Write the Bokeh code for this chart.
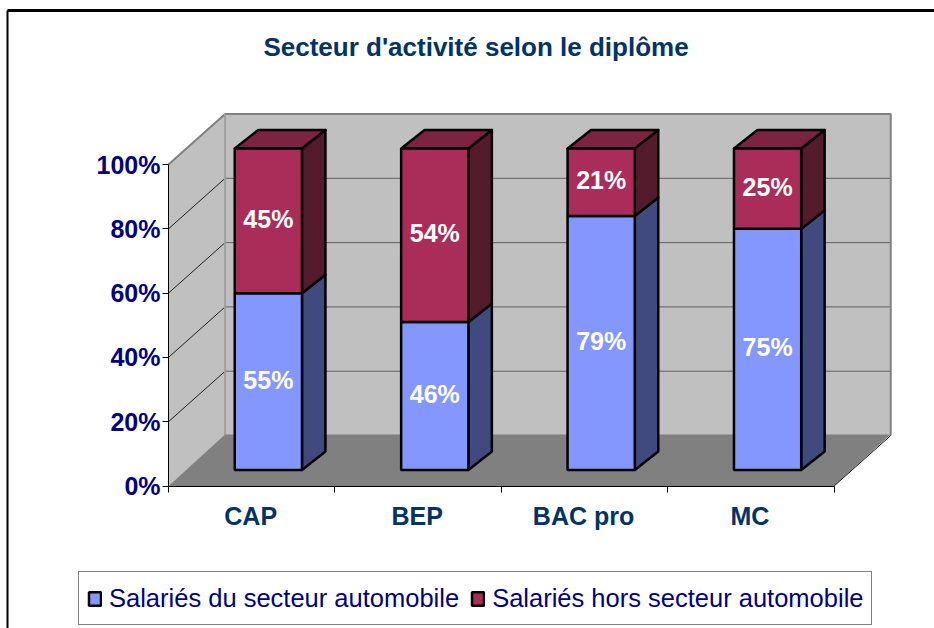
from bokeh.embed import file_html
from bokeh.resources import INLINE
from bokeh.plotting import figure
from bokeh.models import FixedTicker, Legend, LegendItem, Range1d
from bokeh.core.properties import value

categories = ["CAP", "BEP", "BAC pro", "MC"]
secteur = [55, 46, 79, 75]
hors_secteur = [45, 54, 21, 25]
y_ticks = [0, 20, 40, 60, 80, 100]
title = "Secteur d'activité selon le diplôme"
series_names = ["Salariés du secteur automobile", "Salariés hors secteur automobile"]

FONT = "Liberation Sans"
NAVY = "#000080"
TEAL = "#003366"

# projection of the fake 3D box, expressed in axis units
WALL_DX, WALL_DY = 0.34, 15.7
BAR_OX, BAR_OY = 0.100, 4.98
BAR_W = 0.404
BAR_DX, BAR_DY = 0.141, 5.75

XMIN, XMAX, YMIN, YMAX = -1.0096, 4.603, -44.32, 151.01

p = figure(width=934, height=628, output_backend="svg", toolbar_location=None,
           x_range=Range1d(XMIN, XMAX), y_range=Range1d(YMIN, YMAX),
           min_border=0,
           background_fill_color="white", border_fill_color="white", outline_line_color=None)
p.grid.visible = False

n = len(categories)
top = max(y_ticks)
# walls
p.patch([0, WALL_DX, WALL_DX, 0], [0, WALL_DY, WALL_DY + top, top], fill_color="#C0C0C0", line_color=None)
p.patch([WALL_DX, n + WALL_DX, n + WALL_DX, WALL_DX], [WALL_DY, WALL_DY, WALL_DY + top, WALL_DY + top],
        fill_color="#C0C0C0", line_color=None)
# gridlines
p.multi_line([[0, WALL_DX] for t in y_ticks[1:-1]], [[t, t + WALL_DY] for t in y_ticks[1:-1]],
             line_color="#202020", line_width=1)
p.multi_line([[WALL_DX, n + WALL_DX] for t in y_ticks[1:-1]], [[t + WALL_DY, t + WALL_DY] for t in y_ticks[1:-1]],
             line_color="#606060", line_width=1)
# wall edges
p.line([0, WALL_DX, n + WALL_DX, n + WALL_DX], [top, WALL_DY + top, WALL_DY + top, WALL_DY],
       line_color="#808080", line_width=2)
p.line([WALL_DX, WALL_DX], [WALL_DY, WALL_DY + top], line_color="#A0A0A0", line_width=2)
# floor
p.patch([0, n, n + WALL_DX, WALL_DX], [0, 0, WALL_DY + 0.3, WALL_DY + 0.3], fill_color="#808080", line_color=None)
p.line([n, n + WALL_DX], [0, WALL_DY], line_color="#202020", line_width=1)

renderers = []
styles = [("#8497FF", "#404A7E", None), ("#A92C59", "#541B2D", "#7B2340")]
bottoms = [0] * n
label_x, label_y, label_t = [], [], []
for k, vals in enumerate([secteur, hors_secteur]):
    front, side, cap = styles[k]
    xl = [i + 0.5 + BAR_OX - BAR_W / 2 for i in range(n)]
    xr = [i + 0.5 + BAR_OX + BAR_W / 2 for i in range(n)]
    y0 = [BAR_OY + b for b in bottoms]
    y1 = [BAR_OY + b + v for b, v in zip(bottoms, vals)]
    p.patches([[r, r + BAR_DX, r + BAR_DX, r] for r in xr],
              [[a, a + BAR_DY, b + BAR_DY, b] for a, b in zip(y0, y1)],
              fill_color=side, line_color="black", line_width=2.5, line_join="round")
    if cap:
        p.patches([[l, l + BAR_DX, r + BAR_DX, r] for l, r in zip(xl, xr)],
                  [[b, b + BAR_DY, b + BAR_DY, b] for b in y1],
                  fill_color=cap, line_color="black", line_width=2.5, line_join="round")
    rend = p.quad(left=xl, right=xr, bottom=y0, top=y1, fill_color=front, line_color="black", line_width=2.5)
    renderers.append(rend)
    label_x += [i + 0.5 + BAR_OX for i in range(n)]
    label_y += [(a + b) / 2 for a, b in zip(y0, y1)]
    label_t += [f"{v}%" for v in vals]
    bottoms = [b + v for b, v in zip(bottoms, vals)]

p.text(x=label_x, y=label_y, text=label_t, text_color="white", text_align="center", text_baseline="middle",
       text_font=value(FONT), text_font_style="bold", text_font_size="25px", y_offset=-2)

# axes
ya = p.yaxis[0]
ya.fixed_location = 0
ya.bounds = (0, top)
ya.ticker = FixedTicker(ticks=y_ticks)
ya.major_label_overrides = {t: f"{t}%" for t in y_ticks}
ya.minor_tick_line_color = None
ya.major_tick_in = 0
ya.major_tick_out = 6
ya.major_label_standoff = 2
ya.major_label_text_font = FONT
ya.major_label_text_font_style = "bold"
ya.major_label_text_font_size = "25px"
ya.major_label_text_color = NAVY
ya.axis_line_color = "black"

xa = p.xaxis[0]
xa.fixed_location = 0
xa.bounds = (0, n)
centers = [i + 0.494 for i in range(n)]
xa.ticker = FixedTicker(ticks=centers, minor_ticks=list(range(n + 1)))
xa.major_label_overrides = {c: t for c, t in zip(centers, categories)}
xa.major_tick_line_color = None
xa.major_tick_in = 0
xa.major_tick_out = 0
xa.minor_tick_in = 0
xa.minor_tick_out = 6
xa.minor_tick_line_color = "black"
xa.major_label_standoff = 10
xa.major_label_text_font = FONT
xa.major_label_text_font_style = "bold"
xa.major_label_text_font_size = "25px"
xa.major_label_text_color = TEAL
xa.axis_line_color = "black"

# title
p.text(x=[(n + WALL_DX) / 2 - 0.322], y=[top + 36.5], text=[title], text_color=TEAL, text_align="center",
       text_baseline="middle", text_font=value(FONT), text_font_style="bold", text_font_size="26px")

# legend
legend = Legend(items=[LegendItem(label=s, renderers=[r]) for s, r in zip(series_names, renderers)],
                orientation="horizontal", location=(78, 3), glyph_width=15, glyph_height=17,
                label_text_font=FONT, label_text_font_size="25.5px", label_text_color=NAVY,
                label_standoff=7, label_height=36, spacing=11, padding=8, margin=0,
                border_line_color="black", border_line_width=1, background_fill_color="white", background_fill_alpha=1)
p.add_layout(legend, "center")

# outer frame of the picture
p.line([-0.9675, XMAX], [147.9, 147.9], line_color="black", line_width=3)
p.line([-0.9675, -0.9675], [YMIN, 147.9], line_color="black", line_width=2)

open("out.html", "w").write(file_html(p, INLINE))
